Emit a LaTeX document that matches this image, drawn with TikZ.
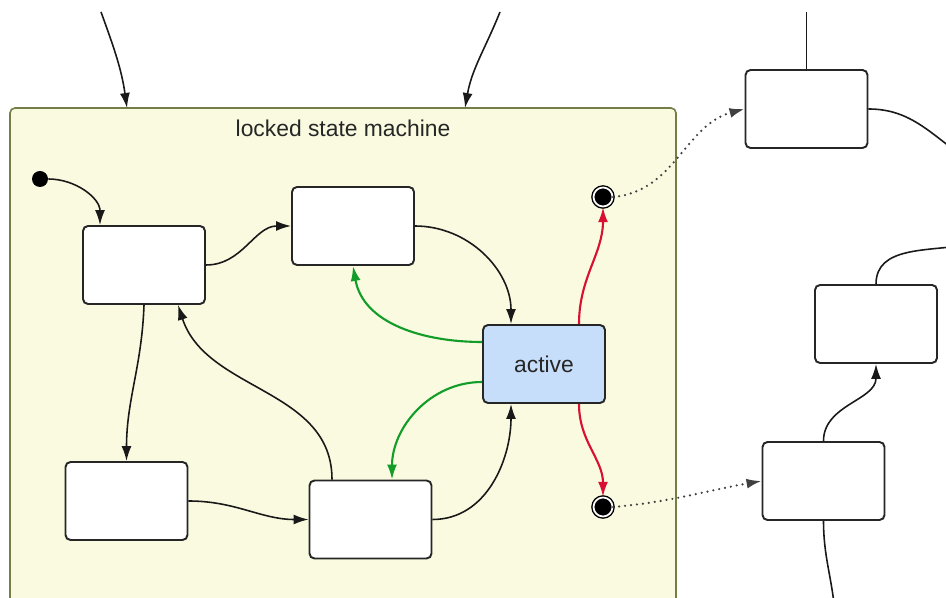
\documentclass[tikz,border=0pt]{standalone}
\usepackage{fontspec}
\setmainfont{Liberation Sans}
\usepackage{tikz}
\usetikzlibrary{arrows.meta, shapes, positioning}
\definecolor{lockfill}{RGB}{250,250,224}
\definecolor{lockedge}{RGB}{118,126,72}
\definecolor{activefill}{RGB}{198,222,250}
\definecolor{guardgreen}{RGB}{18,156,40}
\definecolor{exitred}{RGB}{216,16,50}
\tikzstyle{machine} = [draw=lockedge, fill=lockfill, line width=0.9pt, rounded corners=0.1cm]
\tikzstyle{state} = [rectangle, rounded corners=0.1cm, draw=black!85, line width=1.1pt, fill=white,
                    minimum width=2.44cm, minimum height=1.56cm]
\tikzstyle{activestate} = [state, fill=activefill, font=\fontsize{13}{15}\selectfont, text=black!85]
\tikzstyle{initial} = [circle, fill=black, inner sep=0, minimum size=0.32cm]
\tikzstyle{final} = [circle, fill=black, draw=black, double=white, double distance=0.035cm,
                    line width=0.028cm, inner sep=0, minimum size=0.38cm]
\tikzstyle{trans} = [-{Latex[length=0.3cm, width=0.2cm]}, line width=0.9pt, draw=black!90]
\tikzstyle{greentrans} = [trans, draw=guardgreen, line width=1.2pt]
\tikzstyle{redtrans} = [trans, draw=exitred, line width=1.2pt]
\tikzstyle{exittrans} = [trans, draw=black!75, line width=1.4pt, line cap=round, dash pattern=on 0pt off 3.4pt]

\begin{document}
\begin{tikzpicture}
				\useasboundingbox (0, 0) rectangle (18.92, 11.96);

				\draw [machine] (0.2, -0.5) rectangle (13.52, 9.8);
				\node (Title) at (6.86, 9.40) {\fontsize{13}{15}\selectfont\color{black!85}locked state machine};

				\coordinate (EntryA) at (2.02, 11.72);
				\coordinate (EntryAEnd) at (2.54, 9.80);
				\draw [trans] (EntryA) to[out=-70, in=98] (EntryAEnd);
				\coordinate (EntryB) at (10.00, 11.72);
				\coordinate (EntryBEnd) at (9.30, 9.80);
				\draw [trans] (EntryB) to[out=-112, in=80] (EntryBEnd);

				\node (Init) [initial] at (0.80, 8.38) {};
				\node (Idle) [state] at (2.88, 6.66) {};
				\node (Ready) [state] at (7.06, 7.44) {};
				\node (Wait) [state] at (2.53, 1.94) {};
				\node (Check) [state] at (7.41, 1.57) {};
				\node (Active) [activestate] at (10.88, 4.68) {active};
				\node (Done) [final] at (12.06, 8.02) {};
				\node (Fail) [final] at (12.06, 1.82) {};

				\draw [trans] (Init) to[out=0, in=90] ([xshift=-0.88cm]Idle.north);
				\draw [trans] (Idle.east) to[out=0, in=180] (Ready.west);
				\draw [trans] (Ready.east) to[out=0, in=90] ([xshift=-0.66cm]Active.north);
				\draw [trans] (Idle.south) to[out=-92, in=90] (Wait.north);
				\draw [trans] (Wait.east) to[out=0, in=180] (Check.west);
				\draw [trans] ([xshift=-0.77cm]Check.north) to[out=90, in=-72] ([xshift=0.68cm]Idle.south);
				\draw [trans] (Check.east) to[out=0, in=-90] ([xshift=-0.66cm]Active.south);

				\draw [greentrans] ([yshift=0.44cm]Active.west) to[out=180, in=-80] (Ready.south);
				\draw [greentrans] ([yshift=-0.36cm]Active.west) to[out=180, in=90] ([xshift=0.43cm]Check.north);

				\draw [redtrans] ([xshift=0.70cm]Active.north) to[out=90, in=-90] (Done.south);
				\draw [redtrans] ([xshift=0.70cm]Active.south) to[out=-90, in=90] (Fail.north);

				\node (Next) [state] at (16.13, 9.78) {};
				\node (Retry) [state] at (17.52, 5.48) {};
				\node (Error) [state] at (16.47, 2.34) {};

				\draw [exittrans] (Done.east) to[out=5, in=195] (Next.west);
				\draw [exittrans] (Fail.east) to[out=5, in=190] (Error.west);

				\coordinate (NextIn) at (16.13, 11.72);
				\draw [line width=0.9pt, draw=black!90] (NextIn) -- (Next.north);
				\coordinate (NextOut) at (19.3, 8.8);
				\draw [line width=0.9pt, draw=black!90] (Next.east) to[out=0, in=145] (NextOut);
				\coordinate (RetryOut) at (19.3, 7.06);
				\draw [line width=0.9pt, draw=black!90] (Retry.north) to[out=90, in=190] (RetryOut);
				\draw [trans] (Error.north) to[out=90, in=-90] (Retry.south);
				\coordinate (ErrorOut) at (16.70, -0.3);
				\draw [line width=0.9pt, draw=black!90] (Error.south) to[out=-90, in=95] (ErrorOut);
			\end{tikzpicture}
\end{document}
